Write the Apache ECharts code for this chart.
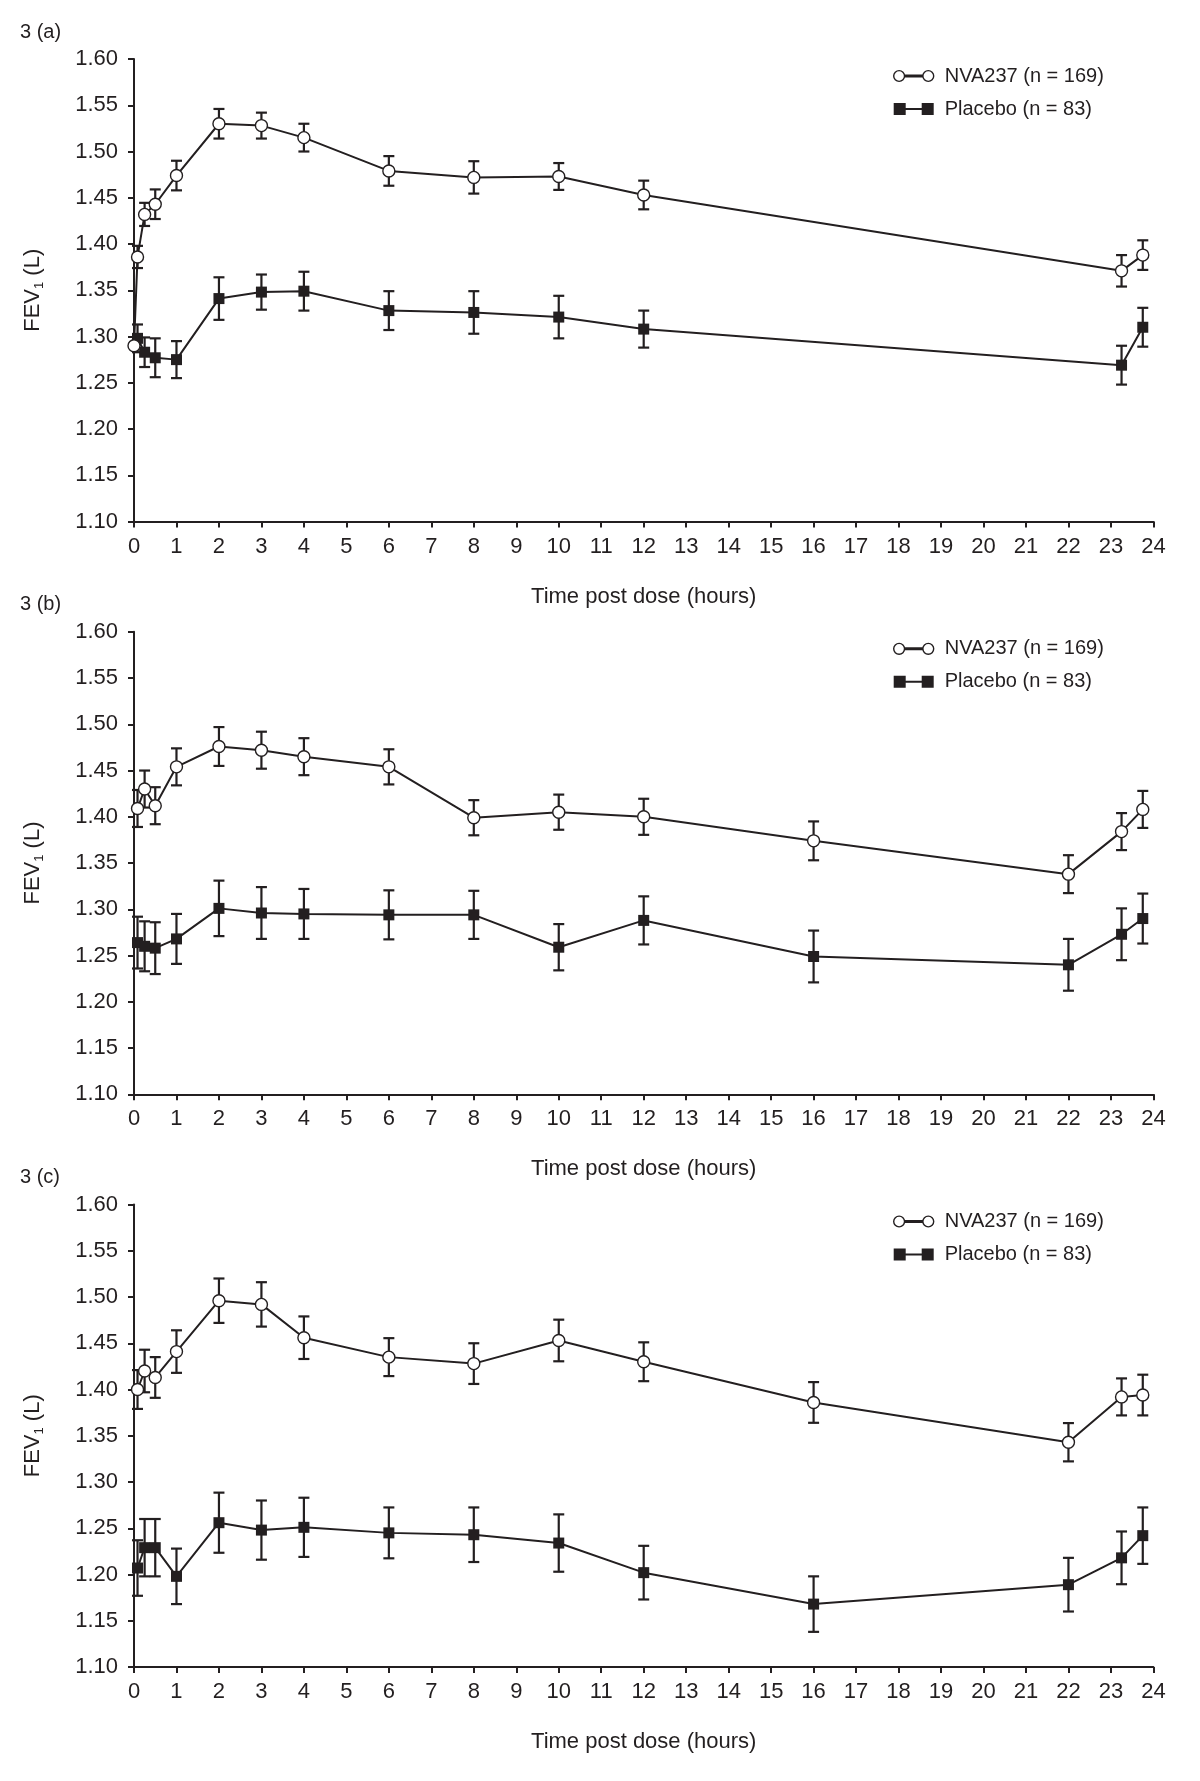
<!DOCTYPE html>
<html>
<head>
<meta charset="utf-8">
<title>FEV1 time profile</title>
<script src="https://cdn.jsdelivr.net/npm/echarts@6/dist/echarts.min.js"></script>
<style>
    html, body { margin: 0; padding: 0; background: #fff; }
    #chart { width: 1200px; height: 1781px; }
</style>
</head>
<body>
<div id="chart"></div>
<script>
// 3 (a)
let timesNvaA = [0, 0.083, 0.25, 0.5, 1, 2, 3, 4, 6, 8, 10, 12, 23.25, 23.75];
let nvaA = [1.290, 1.386, 1.432, 1.443, 1.474, 1.530, 1.528, 1.515, 1.479, 1.472, 1.473, 1.453, 1.371, 1.388];
let nvaSeA = [0, 0.012, 0.0125, 0.016, 0.016, 0.016, 0.014, 0.015, 0.016, 0.0175, 0.0145, 0.0155, 0.017, 0.016];
let timesPlaA = [0.083, 0.25, 0.5, 1, 2, 3, 4, 6, 8, 10, 12, 23.25, 23.75];
let placeboA = [1.298, 1.283, 1.277, 1.275, 1.341, 1.348, 1.349, 1.328, 1.326, 1.321, 1.308, 1.269, 1.310];
let placeboSeA = [0.015, 0.016, 0.021, 0.020, 0.023, 0.019, 0.021, 0.021, 0.023, 0.023, 0.020, 0.021, 0.021];

// 3 (b)
let timesB = [0.083, 0.25, 0.5, 1, 2, 3, 4, 6, 8, 10, 12, 16, 22, 23.25, 23.75];
let nvaB = [1.409, 1.430, 1.412, 1.454, 1.476, 1.472, 1.465, 1.454, 1.399, 1.405, 1.400, 1.374, 1.338, 1.384, 1.408];
let nvaSeB = [0.020, 0.020, 0.020, 0.020, 0.021, 0.020, 0.020, 0.019, 0.019, 0.019, 0.0195, 0.021, 0.0205, 0.020, 0.020];
let placeboB = [1.264, 1.260, 1.258, 1.268, 1.301, 1.296, 1.295, 1.294, 1.294, 1.259, 1.288, 1.249, 1.240, 1.273, 1.290];
let placeboSeB = [0.028, 0.027, 0.028, 0.027, 0.030, 0.028, 0.027, 0.0265, 0.026, 0.025, 0.026, 0.028, 0.028, 0.028, 0.027];

// 3 (c)
let timesC = [0.083, 0.25, 0.5, 1, 2, 3, 4, 6, 8, 10, 12, 16, 22, 23.25, 23.75];
let nvaC = [1.400, 1.420, 1.413, 1.441, 1.496, 1.492, 1.456, 1.435, 1.428, 1.453, 1.430, 1.386, 1.343, 1.392, 1.394];
let nvaSeC = [0.021, 0.023, 0.022, 0.023, 0.024, 0.024, 0.023, 0.0205, 0.022, 0.0225, 0.021, 0.022, 0.0207, 0.020, 0.022];
let placeboC = [1.207, 1.229, 1.229, 1.198, 1.256, 1.248, 1.251, 1.245, 1.243, 1.234, 1.202, 1.168, 1.189, 1.218, 1.242];
let placeboSeC = [0.030, 0.031, 0.031, 0.030, 0.0325, 0.032, 0.032, 0.0275, 0.0295, 0.031, 0.029, 0.030, 0.029, 0.0285, 0.0305];

let panelTitles = ['3 (a)', '3 (b)', '3 (c)'];
let nvaName = 'NVA237 (n = 169)';
let placeboName = 'Placebo (n = 83)';
let xName = 'Time post dose (hours)';
let xMin = 0, xMax = 24, xStep = 1;
let yMin = 1.10, yMax = 1.60, yStep = 0.05;

let panels = [
    {nva: [timesNvaA, nvaA, nvaSeA], pla: [timesPlaA, placeboA, placeboSeA]},
    {nva: [timesB, nvaB, nvaSeB], pla: [timesB, placeboB, placeboSeB]},
    {nva: [timesC, nvaC, nvaSeC], pla: [timesC, placeboC, placeboSeC]}
];

const ink = '#231f20';
const font = 'Liberation Sans, Arial, Helvetica, sans-serif';
const gridTops = [59, 631.8, 1204.5];
const gridH = 462.5;

function toRows (set) {
    return set[0].map((t, i) => [t, set[1][i], set[2][i]]);
}

// error bar with caps
function renderErrorBar (params, api) {
    let x = api.value(0);
    let y = api.value(1);
    let se = api.value(2);
    if (!se) {
        return;
    }
    let hi = api.coord([x, y + se]);
    let lo = api.coord([x, y - se]);
    let w = 5.5;
    let style = {stroke: ink, lineWidth: 2.2};
    return {
        type: 'group',
        children: [
            {type: 'line', shape: {x1: hi[0], y1: hi[1], x2: lo[0], y2: lo[1]}, style: style},
            {type: 'line', shape: {x1: hi[0] - w, y1: hi[1], x2: hi[0] + w, y2: hi[1]}, style: style},
            {type: 'line', shape: {x1: lo[0] - w, y1: lo[1], x2: lo[0] + w, y2: lo[1]}, style: style}
        ]
    };
}

let grid = [];
let xAxis = [];
let yAxis = [];
let series = [];
let legend = [];
let title = [];

panels.forEach((p, i) => {
    grid.push({left: 134, right: 46.6, top: gridTops[i], height: gridH});
    title.push({
        text: panelTitles[i],
        left: 20,
        top: gridTops[i] - 37,
        padding: 0,
        textStyle: {color: ink, fontSize: 20, fontWeight: 'normal', fontFamily: font}
    });
    xAxis.push({
        type: 'value',
        gridIndex: i,
        min: xMin,
        max: xMax,
        interval: xStep,
        name: xName,
        nameLocation: 'middle',
        nameGap: 64,
        nameTextStyle: {color: ink, fontSize: 22, fontFamily: font},
        axisLine: {lineStyle: {color: ink, width: 2}},
        axisTick: {length: 6, lineStyle: {color: ink, width: 2}},
        axisLabel: {color: ink, fontSize: 22, fontFamily: font, margin: 14},
        splitLine: {show: false}
    });
    yAxis.push({
        type: 'value',
        gridIndex: i,
        min: yMin,
        max: yMax,
        interval: yStep,
        name: '{t|FEV}{s|1}{t| (L)}',
        nameLocation: 'middle',
        nameRotate: 90,
        nameGap: 88,
        nameTextStyle: {
            rich: {
                t: {color: ink, fontSize: 22, fontFamily: font, lineHeight: 26},
                s: {color: ink, fontSize: 13, fontFamily: font, lineHeight: 26, verticalAlign: 'bottom', padding: [10, 0, 0, 0]}
            }
        },
        axisLine: {show: true, lineStyle: {color: ink, width: 2}},
        axisTick: {show: true, length: 6, lineStyle: {color: ink, width: 2}},
        axisLabel: {color: ink, fontSize: 22, fontFamily: font, margin: 16, formatter: (v) => v.toFixed(2)},
        splitLine: {show: false}
    });
    legend.push({
        orient: 'vertical',
        left: 888,
        top: gridTops[i] + 2,
        itemWidth: 40,
        itemHeight: 12,
        itemGap: 13,
        textStyle: {color: ink, fontSize: 20, fontFamily: font, padding: [0, 0, 0, 6]},
        data: [
            {
                name: nvaName,
                icon: 'path://M0.8,6 A5.2,5.2 0 1,0 11.2,6 A5.2,5.2 0 1,0 0.8,6 Z M11.2,5.3 L28.8,5.3 L28.8,6.7 L11.2,6.7 Z M28.8,6 A5.2,5.2 0 1,0 39.2,6 A5.2,5.2 0 1,0 28.8,6 Z',
                itemStyle: {color: '#fff', borderColor: ink, borderWidth: 1.4}
            },
            {
                name: placeboName,
                icon: 'path://M0,0 L12,0 L12,12 L0,12 Z M12,5 L28,5 L28,7 L12,7 Z M28,0 L40,0 L40,12 L28,12 Z',
                itemStyle: {color: ink, borderWidth: 0}
            }
        ]
    });
    // error bars under the markers
    series.push({
        type: 'custom',
        name: nvaName,
        xAxisIndex: i,
        yAxisIndex: i,
        z: 1,
        renderItem: renderErrorBar,
        encode: {x: 0, y: 1},
        data: toRows(p.nva)
    });
    series.push({
        type: 'custom',
        name: placeboName,
        xAxisIndex: i,
        yAxisIndex: i,
        z: 1,
        renderItem: renderErrorBar,
        encode: {x: 0, y: 1},
        data: toRows(p.pla)
    });
    series.push({
        type: 'line',
        name: nvaName,
        xAxisIndex: i,
        yAxisIndex: i,
        z: 3,
        symbol: 'circle',
        symbolSize: 12,
        showAllSymbol: true,
        lineStyle: {color: ink, width: 2},
        itemStyle: {color: '#fff', borderColor: ink, borderWidth: 1.4},
        data: p.nva[0].map((t, k) => [t, p.nva[1][k]])
    });
    series.push({
        type: 'line',
        name: placeboName,
        xAxisIndex: i,
        yAxisIndex: i,
        z: 2,
        symbol: 'rect',
        symbolSize: 11,
        showAllSymbol: true,
        lineStyle: {color: ink, width: 2},
        itemStyle: {color: ink},
        data: p.pla[0].map((t, k) => [t, p.pla[1][k]])
    });
});

let myChart = echarts.init(document.getElementById('chart'));
myChart.setOption({
    animation: false,
    backgroundColor: '#fff',
    title: title,
    legend: legend,
    grid: grid,
    xAxis: xAxis,
    yAxis: yAxis,
    series: series
});
</script>
</body>
</html>
